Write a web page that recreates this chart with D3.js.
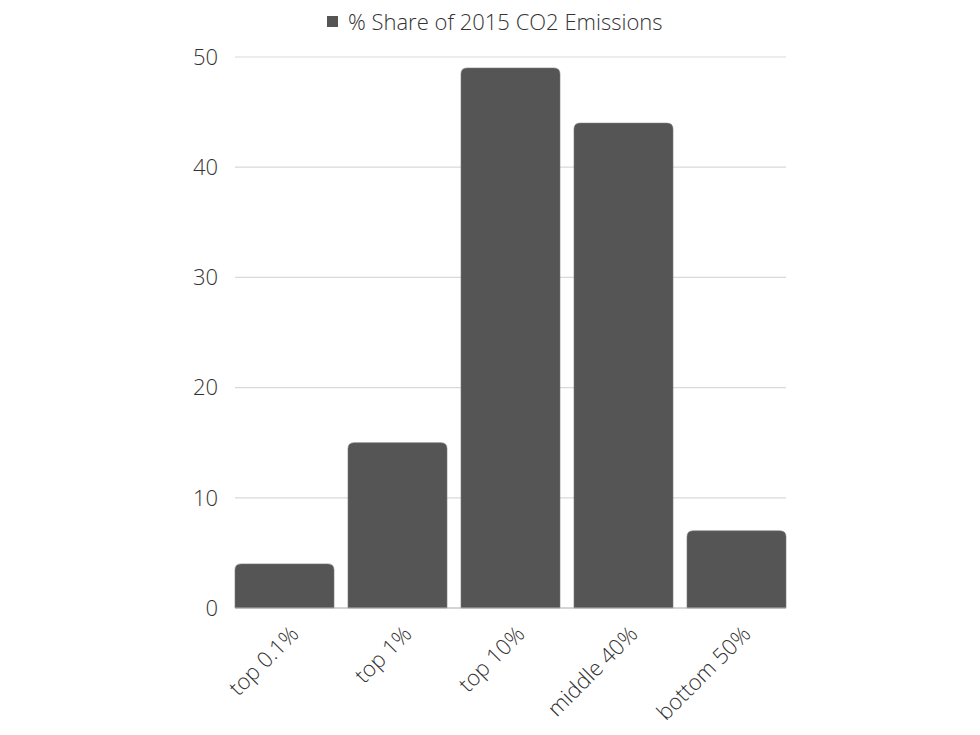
<!DOCTYPE html>
<html><head><meta charset="utf-8">
<script src="https://cdn.jsdelivr.net/npm/d3@7"></script>
<style>body{margin:0;background:#fff;} svg{display:block;font-family:"Open Sans",sans-serif;font-weight:300;}</style>
</head><body>
<svg id="c" width="980" height="735"></svg>
<script>
const categories = ["top 0.1%","top 1%","top 10%","middle 40%","bottom 50%"];
const values = [4, 15, 49, 44, 7];
const yTicks = [0,10,20,30,40,50];
const seriesName = "% Share of 2015 CO2 Emissions";

const svg = d3.select("#c");
const m = {l:235, r:786, t:57, b:608};
const x = d3.scaleBand().domain(categories).range([m.l, m.r]).paddingInner(0.124).paddingOuter(0);
const y = d3.scaleLinear().domain([0,50]).range([m.b, m.t]);
const fs = 22, tc = "#333";

// gridlines
svg.append("g").selectAll("line").data(yTicks.filter(d=>d>0)).join("line")
  .attr("x1", m.l).attr("x2", m.r).attr("y1", d=>y(d)).attr("y2", d=>y(d))
  .attr("stroke", "#d9d9d9").attr("stroke-width", 1.2);

// y labels
svg.append("g").selectAll("text").data(yTicks).join("text")
  .attr("x", 218).attr("y", d=>y(d)).attr("dy", "0.35em")
  .attr("text-anchor", "end").attr("font-size", fs).attr("fill", tc)
  .text(d=>d);

// bars with rounded top corners
const r = 6;
svg.append("g").selectAll("path").data(values).join("path")
  .attr("d", (d,i)=>{
    const x0 = x(categories[i]), w = x.bandwidth(), y0 = y(d), yb = y(0);
    return `M${x0},${yb}V${y0+r}Q${x0},${y0} ${x0+r},${y0}H${x0+w-r}Q${x0+w},${y0} ${x0+w},${y0+r}V${yb}Z`;
  })
  .attr("fill", "#555555").attr("stroke", "#777").attr("stroke-width", 0.6);

// baseline
svg.append("line").attr("x1", m.l).attr("x2", m.r).attr("y1", y(0)).attr("y2", y(0))
  .attr("stroke", "#aaa").attr("stroke-width", 1.2);

// x labels
svg.append("g").selectAll("text").data(categories).join("text")
  .attr("transform", d=>`translate(${x(d)+x.bandwidth()/2+10},${y(0)+22}) rotate(-45)`)
  .attr("text-anchor", "end").attr("dy", "0.35em")
  .attr("font-size", fs).attr("fill", tc).text(d=>d);

// legend
const lg = svg.append("g");
lg.append("rect").attr("x", 327).attr("y", 16).attr("width", 11).attr("height", 11).attr("fill", "#555");
lg.append("text").attr("x", 348).attr("y", 22).attr("dy", "0.35em").attr("font-size", fs).attr("fill", tc).text(seriesName);
</script>
</body></html>
